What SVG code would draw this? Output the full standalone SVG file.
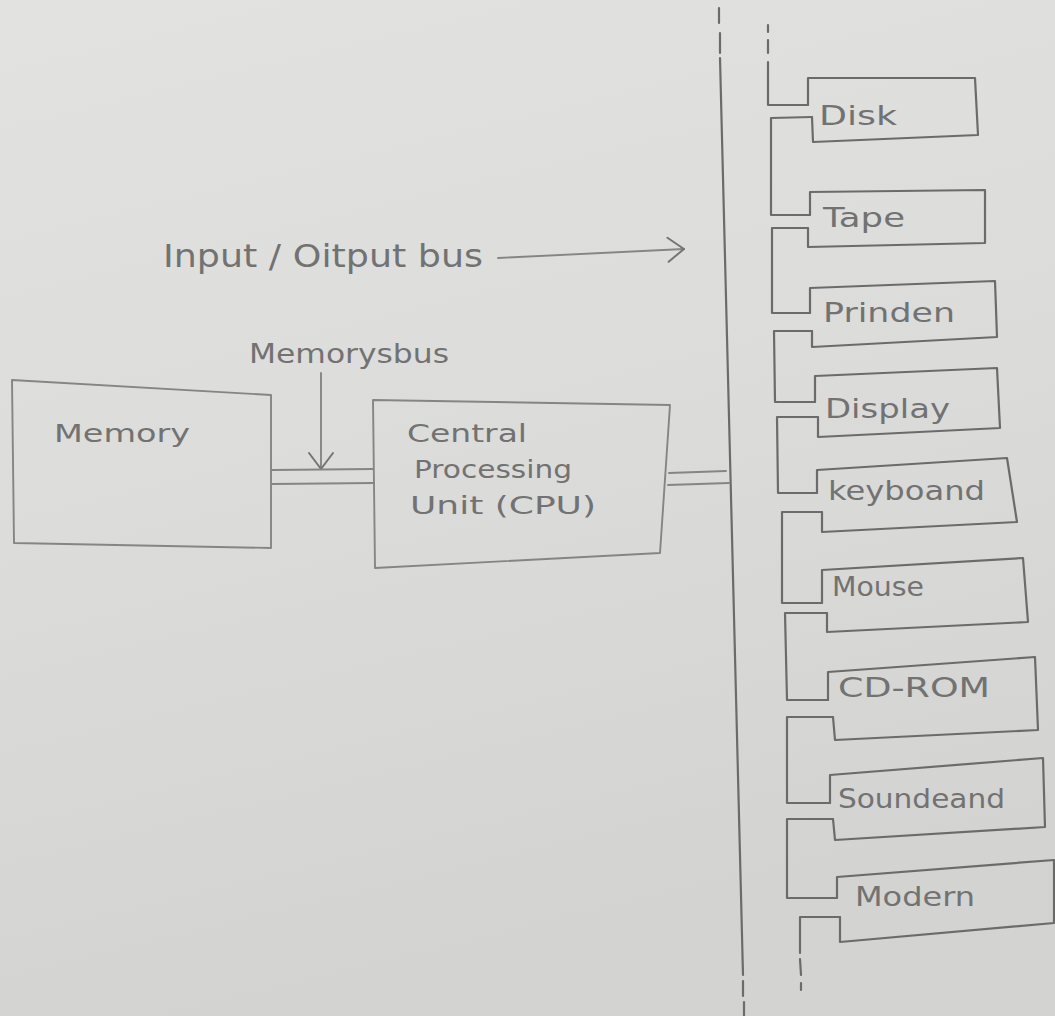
<svg xmlns="http://www.w3.org/2000/svg" width="1055" height="1016" viewBox="0 0 1055 1016">
<defs>
<linearGradient id="paper" x1="0" y1="0" x2="0.25" y2="1">
<stop offset="0" stop-color="#e2e3e1"/>
<stop offset="0.5" stop-color="#dcdddb"/>
<stop offset="1" stop-color="#d3d4d1"/>
</linearGradient>
<marker id="open" markerUnits="userSpaceOnUse" markerWidth="22" markerHeight="30" refX="18" refY="15" orient="auto">
<path d="M2,3 L18,15 L2,27" fill="none" stroke="#747474" stroke-width="2" stroke-linecap="round" stroke-linejoin="round"/>
</marker>
<style>
.ln{fill:none;stroke:#6b6b6b;stroke-width:2.2;stroke-linecap:round;stroke-linejoin:round}
.lt{fill:none;stroke:#858585;stroke-width:1.9;stroke-linecap:round;stroke-linejoin:round}
.tx{font-family:"DejaVu Sans","Liberation Sans",sans-serif;fill:#727272;font-weight:normal}
.dv{font-size:27px}
</style>
</defs>
<rect x="0" y="0" width="1055" height="1016" fill="url(#paper)"/>

<g id="connectors">
<!-- main I/O bus vertical line -->
<path class="ln" d="M719,8 L719,23 M720,33 L720,53 M720,58 L743,975 M743,981 L743,996 M744,1002 L744,1016"/>
<!-- I/O bus label arrow -->
<path class="lt" d="M498,258 L684,249" marker-end="url(#open)"/>
<!-- memory bus arrow -->
<path class="lt" d="M321,373 L321,469" marker-end="url(#open)"/>
<!-- memory bus (double line) -->
<path class="lt" d="M272,470 L373,469 M272,484 L374,483"/>
<!-- CPU to I/O bus (double line) -->
<path class="lt" d="M669,473 L726,471 M668,485 L729,483"/>
<!-- device chain -->
<path class="ln" d="M768,25 L768,32 M768,40 L768,53 M768,62 L768,105 L808,105"/>
<path class="ln" d="M812,117 L771,118 L771,215 L810,215"/>
<path class="ln" d="M808,228 L772,228 L772,313 L810,313"/>
<path class="ln" d="M812,331 L774,331 L775,402 L815,402"/>
<path class="ln" d="M818,417 L777,417 L778,493 L817,493"/>
<path class="ln" d="M822,512 L782,512 L782,603 L822,603"/>
<path class="ln" d="M827,613 L785,613 L787,700 L828,700"/>
<path class="ln" d="M833,717 L787,717 L787,803 L830,803"/>
<path class="ln" d="M833,819 L787,819 L787,898 L837,898"/>
<path class="ln" d="M840,917 L800,917 L800,953 M800,959 L801,975 M801,983 L801,990"/>
</g>

<g id="label-io">
<text class="tx" x="163" y="267" font-size="32" textLength="320" lengthAdjust="spacingAndGlyphs">Input / Oitput bus</text>
</g>
<g id="label-membus">
<text class="tx" x="249" y="363" font-size="26" textLength="200" lengthAdjust="spacingAndGlyphs">Memorysbus</text>
</g>

<g id="memory">
<path class="lt" d="M12,380 L271,395 L271,548 L14,543 Z"/>
<text class="tx" x="54" y="442" font-size="25" textLength="136" lengthAdjust="spacingAndGlyphs">Memory</text>
</g>

<g id="cpu">
<path class="lt" d="M373,400 L670,405 L660,553 L375,568 Z"/>
<text class="tx" x="407" y="442" font-size="24" textLength="120" lengthAdjust="spacingAndGlyphs">Central</text>
<text class="tx" x="414" y="478" font-size="24" textLength="158" lengthAdjust="spacingAndGlyphs">Processing</text>
<text class="tx" x="410" y="514" font-size="24" textLength="186" lengthAdjust="spacingAndGlyphs">Unit (CPU)</text>
</g>

<g id="disk">
<path class="ln" d="M808,105 L808,78 L975,78 L978,135 L813,142 L812,117"/>
<text class="tx dv" x="819" y="125" textLength="78" lengthAdjust="spacingAndGlyphs">Disk</text>
</g>
<g id="tape">
<path class="ln" d="M810,215 L810,192 L985,190 L985,243 L808,247 L808,228"/>
<text class="tx dv" x="823" y="227" font-size="29" textLength="82" lengthAdjust="spacingAndGlyphs">Tape</text>
</g>
<g id="printer">
<path class="ln" d="M810,313 L810,288 L995,281 L997,337 L812,347 L812,331"/>
<text class="tx dv" x="823" y="322" textLength="132" lengthAdjust="spacingAndGlyphs">Prinden</text>
</g>
<g id="display">
<path class="ln" d="M815,402 L815,376 L997,368 L1000,428 L818,437 L818,417"/>
<text class="tx dv" x="825" y="418" textLength="125" lengthAdjust="spacingAndGlyphs">Display</text>
</g>
<g id="keyboard">
<path class="ln" d="M817,493 L817,470 L1007,458 L1017,522 L822,532 L822,512"/>
<text class="tx dv" x="828" y="500" textLength="157" lengthAdjust="spacingAndGlyphs">keyboand</text>
</g>
<g id="mouse">
<path class="ln" d="M822,603 L822,570 L1023,558 L1028,622 L827,632 L827,613"/>
<text class="tx dv" x="832" y="596" font-size="24" textLength="92" lengthAdjust="spacingAndGlyphs">Mouse</text>
</g>
<g id="cdrom">
<path class="ln" d="M828,700 L828,672 L1035,657 L1038,730 L835,740 L833,717"/>
<text class="tx dv" x="838" y="697" textLength="152" lengthAdjust="spacingAndGlyphs">CD-ROM</text>
</g>
<g id="soundcard">
<path class="ln" d="M830,803 L830,775 L1043,758 L1045,827 L835,840 L833,819"/>
<text class="tx dv" x="838" y="808" textLength="167" lengthAdjust="spacingAndGlyphs">Soundeand</text>
</g>
<g id="modem">
<path class="ln" d="M837,898 L837,877 L1054,860 L1054,923 L840,942 L840,917"/>
<text class="tx dv" x="855" y="906" textLength="120" lengthAdjust="spacingAndGlyphs">Modern</text>
</g>
</svg>
